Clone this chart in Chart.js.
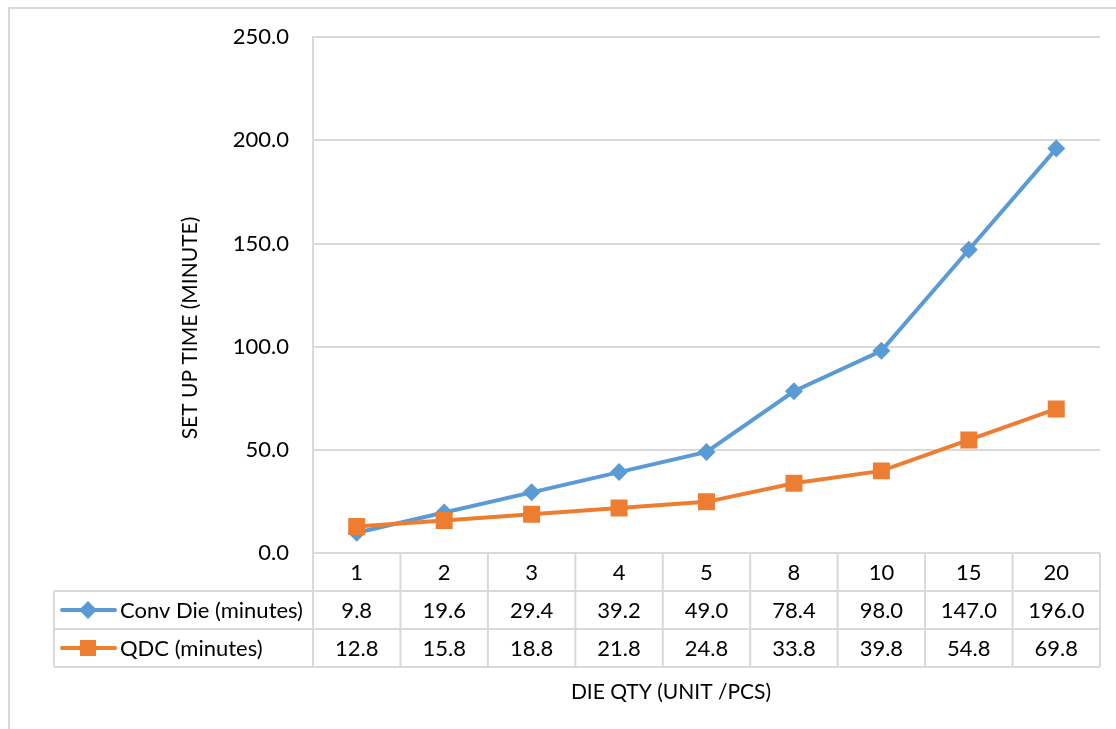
<!DOCTYPE html>
<html>
<head>
<meta charset="utf-8">
<script src="https://cdn.jsdelivr.net/npm/chart.js@4.4.1/dist/chart.umd.min.js"></script>
<style>
  html, body { margin: 0; padding: 0; background: #fff; }
  #wrap { width: 1116px; height: 729px; position: relative; }
</style>
</head>
<body>
<div id="wrap"><canvas id="myLineChart" width="1116" height="729"></canvas></div>
<script>
// data
const dieQty = ['1', '2', '3', '4', '5', '8', '10', '15', '20'];
const convDie = [9.8, 19.6, 29.4, 39.2, 49.0, 78.4, 98.0, 147.0, 196.0];
const qdc = [12.8, 15.8, 18.8, 21.8, 24.8, 33.8, 39.8, 54.8, 69.8];
const yTicks = [0, 50, 100, 150, 200, 250];

const blue = '#5B9BD5';
const orange = '#ED7D31';
const grid = '#d9d9d9';
const font = 'Lato, "Open Sans", sans-serif';

// draws the frame, axis titles and the data table under the plot
const tablePlugin = {
  id: 'dataTable',
  afterDraw(chart) {
    const c = chart.ctx;
    const area = chart.chartArea;
    const xs = chart.scales.x;
    const rowH = 38;
    const top = area.bottom;
    const legendLeft = 54;
    const n = dieQty.length;
    const step = (area.right - area.left) / n;

    c.save();
    // outer frame (only top and left edges show)
    c.strokeStyle = grid;
    c.lineWidth = 2;
    c.beginPath();
    c.moveTo(9, 740);
    c.lineTo(9, 8);
    c.lineTo(1130, 8);
    c.stroke();

    // table lines
    c.beginPath();
    c.moveTo(area.left, top);
    c.lineTo(area.left, top + rowH * 3);
    for (let i = 1; i <= n; i++) {
      const x = area.left + step * i;
      c.moveTo(x, top);
      c.lineTo(x, top + rowH * 3);
    }
    c.moveTo(legendLeft, top + rowH);
    c.lineTo(legendLeft, top + rowH * 3);
    c.moveTo(legendLeft, top + rowH);
    c.lineTo(area.right, top + rowH);
    c.moveTo(legendLeft, top + rowH * 2);
    c.lineTo(area.right, top + rowH * 2);
    c.moveTo(legendLeft, top + rowH * 3);
    c.lineTo(area.right, top + rowH * 3);
    c.stroke();

    // cell texts
    c.fillStyle = '#000';
    c.font = '22px ' + font;
    c.textAlign = 'center';
    c.textBaseline = 'middle';
    const rows = [dieQty, convDie.map(v => v.toFixed(1)), qdc.map(v => v.toFixed(1))];
    rows.forEach((row, r) => {
      row.forEach((txt, i) => {
        c.fillText(txt, xs.getPixelForValue(i), top + rowH * r + rowH / 2 + 1);
      });
    });

    // legend keys inside the table
    const keys = [
      { label: 'Conv Die (minutes)', color: blue, style: 'diamond' },
      { label: 'QDC (minutes)', color: orange, style: 'square' }
    ];
    keys.forEach((k, i) => {
      const y = top + rowH * (i + 1) + rowH / 2;
      c.strokeStyle = k.color;
      c.lineWidth = 4;
      c.lineCap = 'round';
      c.beginPath();
      c.moveTo(62, y);
      c.lineTo(115, y);
      c.stroke();
      c.fillStyle = k.color;
      c.beginPath();
      if (k.style === 'diamond') {
        c.moveTo(88, y - 9);
        c.lineTo(97, y);
        c.lineTo(88, y + 9);
        c.lineTo(79, y);
      } else {
        c.rect(80, y - 8, 16, 16);
      }
      c.closePath();
      c.fill();
      c.fillStyle = '#000';
      c.textAlign = 'left';
      c.fillText(k.label, 120, y + 1);
    });

    // axis titles
    c.font = '21px ' + font;
    c.textAlign = 'center';
    c.fillText('DIE QTY (UNIT /PCS)', 671, 692);
    c.translate(190, 328);
    c.rotate(-Math.PI / 2);
    c.fillText('SET UP TIME (MINUTE)', 0, 0);
    c.restore();
  }
};

const ctx = document.getElementById('myLineChart');
const chart = new Chart(ctx, {
  type: 'line',
  data: {
    labels: dieQty,
    datasets: [
      {
        label: 'Conv Die (minutes)',
        data: convDie,
        borderColor: blue,
        backgroundColor: blue,
        borderWidth: 4,
        pointStyle: 'rectRot',
        pointRadius: 9,
        pointHoverRadius: 9,
        pointBorderWidth: 0,
        order: 1
      },
      {
        label: 'QDC (minutes)',
        data: qdc,
        borderColor: orange,
        backgroundColor: orange,
        borderWidth: 4,
        pointStyle: 'rect',
        pointRadius: 12,
        pointHoverRadius: 12,
        pointBorderWidth: 0,
        order: 0
      }
    ]
  },
  options: {
    responsive: false,
    animation: false,
    events: [],
    layout: { padding: { top: 37, right: 16, bottom: 176, left: 0 } },
    plugins: {
      legend: { display: false },
      tooltip: { enabled: false }
    },
    scales: {
      x: {
        type: 'category',
        offset: true,
        display: false
      },
      y: {
        min: 0,
        max: 250,
        afterFit(scale) { scale.width = 313; },
        afterBuildTicks(scale) { scale.ticks = yTicks.map(v => ({ value: v })); },
        border: { display: true, color: grid, width: 2 },
        grid: { color: grid, lineWidth: 2, drawTicks: false },
        ticks: {
          padding: 24,
          color: '#000',
          font: { family: font, size: 22 },
          callback: v => v.toFixed(1)
        }
      }
    }
  },
  plugins: [tablePlugin]
});
</script>
</body>
</html>
